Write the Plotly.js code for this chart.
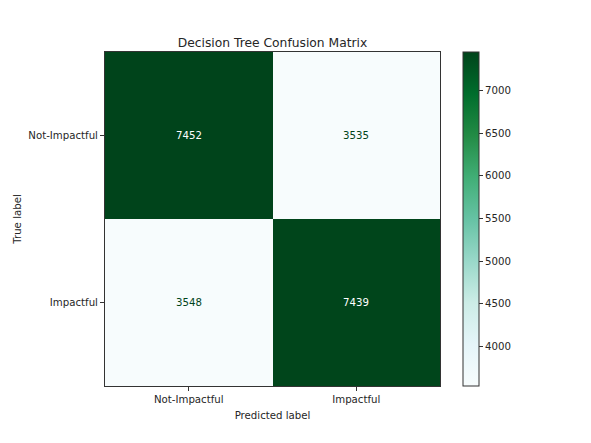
<!DOCTYPE html>
<html>
<head>
<meta charset="utf-8">
<script src="https://cdn.plot.ly/plotly-3.0.1.min.js"></script>
<style>html,body{margin:0;padding:0;background:#fff;}#chart{width:591px;height:443px;}</style>
</head>
<body>
<div id="chart"></div>
<script>
const predictedLabels = ['Not-Impactful', 'Impactful'];
const trueLabels = ['Not-Impactful', 'Impactful'];
const counts = [
  [7452, 3535],
  [3548, 7439]
];
const colorbarTicks = [4000, 4500, 5000, 5500, 6000, 6500, 7000];

const BuGn = [
  [0.0, '#f7fcfd'], [0.125, '#e5f5f9'], [0.25, '#ccece6'], [0.375, '#99d8c9'],
  [0.5, '#66c2a4'], [0.625, '#41ae76'], [0.75, '#238b45'], [0.875, '#006d2c'], [1.0, '#00441b']
];

const flat = counts.flat();
const zmin = Math.min(...flat), zmax = Math.max(...flat);
const mid = (zmin + zmax) / 2;

const annotations = [];
counts.forEach((row, i) => row.forEach((v, j) => {
  annotations.push({
    x: predictedLabels[j], y: trueLabels[i], xref: 'x', yref: 'y',
    text: String(v), showarrow: false,
    font: {family: 'DejaVu Sans', size: 10.2, color: v > mid ? '#ffffff' : '#00441b'}
  });
}));

const font = {family: 'DejaVu Sans', size: 10.2, color: '#262626'};

Plotly.newPlot('chart', [{
  type: 'heatmap',
  z: counts, x: predictedLabels, y: trueLabels,
  colorscale: BuGn, zmin: zmin, zmax: zmax,
  xgap: 0, ygap: 0, hoverinfo: 'none',
  colorbar: {
    x: 1.069, xanchor: 'left', xref: 'paper',
    y: 0.5, yanchor: 'middle', len: 1, lenmode: 'fraction',
    thickness: 16, thicknessmode: 'pixels',
    outlinewidth: 1, outlinecolor: '#333',
    tickvals: colorbarTicks, ticks: 'outside', ticklen: 4, tickcolor: '#333',
    tickfont: font, xpad: 0, ypad: 0
  }
}], {
  width: 591, height: 443,
  margin: {l: 105, r: 151, t: 52, b: 57},
  paper_bgcolor: '#fff', plot_bgcolor: '#fff',
  font: font,
  title: {
    text: 'Decision Tree Confusion Matrix',
    font: {family: 'DejaVu Sans', size: 12.3, color: '#262626'},
    x: 0.4611, xref: 'container', xanchor: 'center',
    y: 1 - 43 / 443, yref: 'container', yanchor: 'middle'
  },
  xaxis: {
    title: {text: 'Predicted label', font: font, standoff: 7},
    ticks: 'outside', ticklen: 4, tickcolor: '#333',
    showline: true, mirror: true, linecolor: '#333', linewidth: 1,
    showgrid: false, zeroline: false, tickfont: font, fixedrange: true
  },
  yaxis: {
    title: {text: 'True label', font: font, standoff: 4},
    autorange: 'reversed',
    ticks: 'outside', ticklen: 4, tickcolor: '#333',
    showline: true, mirror: true, linecolor: '#333', linewidth: 1,
    showgrid: false, zeroline: false, tickfont: font, fixedrange: true
  },
  annotations: annotations
}, {displayModeBar: false, staticPlot: true});
</script>
</body>
</html>
